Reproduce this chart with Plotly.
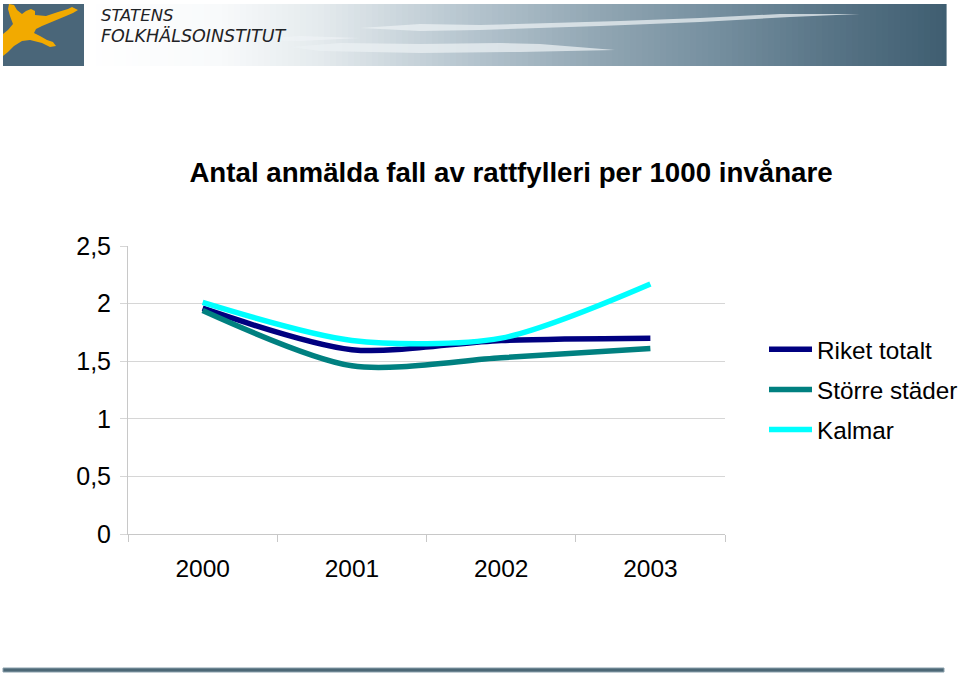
import plotly.graph_objects as go

# ---- data ----
years = ["2000", "2001", "2002", "2003"]
riket = [1.96, 1.60, 1.68, 1.70]
storre = [1.94, 1.46, 1.53, 1.61]
kalmar = [2.01, 1.68, 1.70, 2.17]
y_tickvals = [0, 0.5, 1, 1.5, 2, 2.5]
y_ticktext = ["0", "0,5", "1", "1,5", "2", "2,5"]
title_text = "Antal anmälda fall av rattfylleri per 1000 invånare"

W, H = 960, 678
L, T = 128, 246
R = W - 725
B = H - 534
PW, PH = W - L - R, H - T - B


def px(xw):
    return (xw - L) / PW


def py(yw):
    return (H - B - yw) / PH


def path(points):
    return "M " + " L ".join(f"{px(a):.5f},{py(b):.5f}" for a, b in points) + " Z"


fig = go.Figure()
series = [("Riket totalt", riket, "#000080"), ("Större städer", storre, "#008080"),
          ("Kalmar", kalmar, "#00FFFF")]
for name, vals, col in series:
    fig.add_trace(go.Scatter(x=years, y=vals, name=name, mode="lines", legendgroup=name,
                             line=dict(color=col, width=5.5, shape="spline", smoothing=0.8)))

shapes = []
# header gradient
stops = [(84, (255, 255, 255)), (220, (248, 250, 251)), (320, (228, 234, 237)),
         (480, (178, 194, 204)), (600, (145, 166, 179)), (720, (116, 142, 158)),
         (830, (88, 116, 134)), (946, (63, 94, 113))]


def col_at(x):
    for (x0, c0), (x1, c1) in zip(stops[:-1], stops[1:]):
        if x0 <= x <= x1:
            t = (x - x0) / (x1 - x0)
            return tuple(int(round(c0[i] + (c1[i] - c0[i]) * t)) for i in range(3))
    return stops[-1][1]


step = 6
x = 84
while x < 946:
    x2 = min(x + step, 946)
    c = col_at((x + x2) / 2)
    shapes.append(dict(type="rect", xref="paper", yref="paper", x0=px(x), x1=px(x2 + 0.6),
                       y0=py(66), y1=py(4), line=dict(width=0),
                       fillcolor=f"rgb{c}", layer="below"))
    x = x2

# light streaks
shapes.append(dict(type="path", xref="paper", yref="paper", layer="below", line=dict(width=0),
                   fillcolor="rgba(235,240,243,0.75)",
                   path=path([(360, 28), (420, 24), (480, 25), (620, 21), (700, 18), (780, 14),
                              (860, 14), (790, 17), (700, 22), (600, 26), (480, 30), (420, 31)])))
shapes.append(dict(type="path", xref="paper", yref="paper", layer="below", line=dict(width=0),
                   fillcolor="rgba(235,240,243,0.75)",
                   path=path([(290, 47), (340, 43), (420, 44), (500, 43), (540, 44), (615, 50),
                              (520, 52), (420, 53), (320, 51)])))
shapes.append(dict(type="path", xref="paper", yref="paper", layer="below", line=dict(width=0),
                   fillcolor="rgba(240,244,246,0.6)",
                   path=path([(230, 40), (300, 36), (360, 38), (300, 41)])))

# logo box
shapes.append(dict(type="rect", xref="paper", yref="paper", x0=px(3), x1=px(84), y0=py(66), y1=py(4),
                   line=dict(width=0), fillcolor="#4a6679", layer="below"))
# yellow figure
fig_pts = [(9, 4), (14, 5), (17, 10), (22, 14), (26, 11), (31, 9), (35, 11), (35, 15),
           (46, 16), (58, 12), (68, 9), (72, 7), (78, 10), (73, 13), (66, 16), (54, 21),
           (42, 26), (36, 29), (34, 33), (40, 36), (47, 40), (53, 42), (56, 46), (50, 47),
           (42, 43), (30, 40), (22, 41), (14, 46), (8, 52), (3, 56), (3, 34), (8, 30),
           (13, 24), (10, 16), (8, 9)]
shapes.append(dict(type="path", xref="paper", yref="paper", layer="below", line=dict(width=0),
                   fillcolor="#f2aa00", path=path(fig_pts)))

# bottom bar
shapes.append(dict(type="rect", xref="paper", yref="paper", x0=px(3), x1=px(944), y0=py(672), y1=py(668),
                   line=dict(width=1, color="#8aa0ac"), fillcolor="#4d6876", layer="below"))

annotations = [
    dict(text="STATENS", xref="paper", yref="paper", x=px(99), y=py(15), xanchor="left", yanchor="middle",
         showarrow=False, font=dict(family="DejaVu Sans", size=16.5, color="#1f2326", style="italic")),
    dict(text="FOLKHÄLSOINSTITUT", xref="paper", yref="paper", x=px(99), y=py(36), xanchor="left",
         yanchor="middle", showarrow=False,
         font=dict(family="DejaVu Sans", size=17.5, color="#1f2326", style="italic")),
]

fig.update_layout(
    width=W, height=H,
    margin=dict(l=L, r=R, t=T, b=B, pad=0, autoexpand=False),
    paper_bgcolor="white", plot_bgcolor="white",
    font=dict(family="Liberation Sans, Arial, sans-serif", color="black", size=24),
    title=dict(text=f"<b>{title_text}</b>", x=511 / W, xanchor="center",
               y=1 - 172 / H, yanchor="middle", font=dict(size=27.7, color="black")),
    showlegend=True,
    legend=dict(x=px(764), y=py(327), xanchor="left", yanchor="top",
                font=dict(size=24.3), tracegroupgap=5.5, itemwidth=43,
                bgcolor="rgba(0,0,0,0)", traceorder="grouped"),
    xaxis=dict(type="category", categoryorder="array", categoryarray=years, range=[-0.5, 3.5],
               showgrid=False, showline=True, linecolor="#c8c8c8", linewidth=1,
               ticks="outside", tickson="boundaries", ticklen=7, tickcolor="#c8c8c8",
               tickfont=dict(size=24.5), ticklabelstandoff=13, fixedrange=True, zeroline=False),
    yaxis=dict(range=[0, 2.5], tickvals=y_tickvals, ticktext=y_ticktext, showgrid=True,
               gridcolor="#d6d6d6", gridwidth=1, showline=True, linecolor="#c8c8c8", linewidth=1,
               ticks="outside", ticklen=7, tickcolor="#d6d6d6", tickfont=dict(size=25),
               ticklabelstandoff=4, zeroline=False, fixedrange=True),
    shapes=shapes,
    annotations=annotations,
)

fig.write_html("out.html", config={"displayModeBar": False},
               post_script="document.body.style.margin='0px';")
